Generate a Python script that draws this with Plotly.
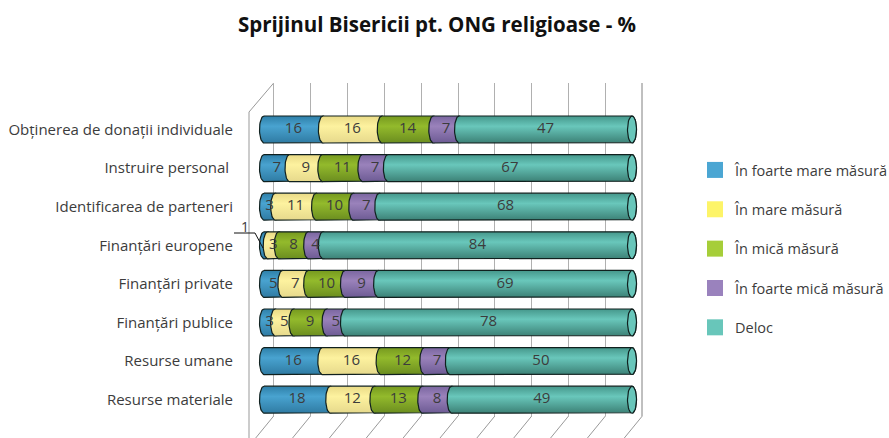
import numpy as np
import plotly.graph_objects as go

categories = ["Obținerea de donații individuale", "Instruire personal\u00a0", "Identificarea de parteneri",
              "Finanțări europene", "Finanțări private", "Finanțări publice", "Resurse umane", "Resurse materiale"]
foarte_mare = [16, 7, 3, 1, 5, 3, 16, 18]
mare = [16, 9, 11, 3, 7, 5, 16, 12]
mica = [14, 11, 10, 8, 10, 9, 12, 13]
foarte_mica = [7, 7, 7, 4, 9, 5, 7, 8]
deloc = [47, 67, 68, 84, 69, 78, 50, 49]
series_names = ["În foarte mare măsură", "În mare măsură", "În mică măsură", "În foarte mică măsură", "Deloc"]
series = [foarte_mare, mare, mica, foarte_mica, deloc]
swatch = ["#4ba6d3", "#fdf468", "#a6ce39", "#9a82bd", "#68c6ba"]
gradients = [("#2f7ba3", "#49a3d0", "#2e7fa8"), ("#e6d98c", "#fdf29f", "#e9da86"),
             ("#6b8d1f", "#93ba2c", "#76991f"), ("#6d5b94", "#9a82bb", "#7a66a0"),
             ("#3c8176", "#69c7bb", "#45978b")]

W, H = 889, 438
L, R, T, B = 249, 642, 83, 416
X0, PX = 264.0, 3.68          # pixel of value 0, pixels per unit
Y0, DY = 129.5, 38.6          # pixel of first row, pixels per row
HALF = 13.5 / DY              # half bar height in row units
RX = 4.5 / PX                 # cap half width in value units
LINE = "#10201e"
GRID = "#b0b0b0"
TEXT = "#3c3c3c"
FONT = "Open Sans"

fig = go.Figure()
t = np.linspace(-np.pi / 2, np.pi / 2, 25)
for s, (vals, grad) in enumerate(zip(series, gradients)):
    for r, v in enumerate(vals):
        start = sum(series[k][r] for k in range(s))
        total = sum(series[k][r] for k in range(5))
        # stacked share, normalised to the 100% axis
        a = start * 100 / total
        b = (start + v) * 100 / total
        xs = np.concatenate([a - RX * np.cos(t), b + RX * np.cos(t[::-1])])
        ys = np.concatenate([r + HALF * np.sin(t), r + HALF * np.sin(t[::-1])])
        xs = np.append(xs, xs[0])
        ys = np.append(ys, ys[0])
        fig.add_trace(go.Scatter(
            x=xs, y=ys, mode="lines", fill="toself", showlegend=False, hoverinfo="skip",
            line=dict(color=LINE, width=1.2),
            fillgradient=dict(type="vertical",
                              colorscale=[[0, grad[0]], [0.62, grad[1]], [1, grad[2]]]),
        ))
# right end caps
for r in range(len(categories)):
    th = np.linspace(0, 2 * np.pi, 49)
    fig.add_trace(go.Scatter(
        x=100 + RX * np.cos(th), y=r + HALF * np.sin(th), mode="lines", fill="toself",
        fillcolor="#68c6ba", line=dict(color=LINE, width=1.2), showlegend=False, hoverinfo="skip"))

# value labels
lx, ly, lt = [], [], []
for s, vals in enumerate(series):
    for r, v in enumerate(vals):
        if v == 1:
            continue
        start = sum(series[k][r] for k in range(s))
        total = sum(series[k][r] for k in range(5))
        lx.append((start + v / 2) * 100 / total)
        ly.append(r)
        lt.append(str(v))
fig.add_trace(go.Scatter(x=lx, y=ly, text=lt, mode="text", showlegend=False, hoverinfo="skip",
                         textfont=dict(family=FONT, size=15, color=TEXT)))

# legend entries
for name, col in zip(series_names, swatch):
    fig.add_trace(go.Scatter(x=[None], y=[None], mode="markers", name=name, legendgroup=name,
                             marker=dict(symbol="square", size=16, color=col)))


def fx(p):
    return (p - L) / (R - L)


def fy(p):
    return (B - p) / (B - T)


shapes = []
line_px = dict(type="line", xref="paper", yref="paper", layer="below")
grid_px = [273.7 + 36.86 * i for i in range(11)]
for g in grid_px:
    shapes.append(dict(line_px, x0=fx(g), x1=fx(g - 18), y0=0, y1=fy(438),
                       line=dict(color="#999999", width=1)))
shapes.append(dict(line_px, x0=0, x1=0, y0=fy(112), y1=fy(438), line=dict(color="#999999", width=1)))
shapes.append(dict(line_px, x0=0, x1=fx(273.7), y0=fy(112), y1=1, line=dict(color="#999999", width=1)))
shapes.append(dict(line_px, x0=1, x1=1, y0=0, y1=1, line=dict(color="#808080", width=1)))
# leader line for the "1" label
leader = dict(type="line", xref="paper", yref="paper", layer="above", line=dict(color="#111111", width=1))
shapes.append(dict(leader, x0=fx(234), x1=fx(255), y0=fy(233), y1=fy(233)))
shapes.append(dict(leader, x0=fx(255), x1=fx(263), y0=fy(233), y1=fy(248)))

annotations = [dict(x=fx(245), y=fy(226), xref="paper", yref="paper", xanchor="center", yanchor="middle",
                    text="1", showarrow=False, font=dict(family=FONT, size=14, color=TEXT))]

fig.update_layout(
    width=W, height=H, autosize=False,
    margin=dict(l=L, r=W - R, t=T, b=H - B, pad=0),
    paper_bgcolor="white", plot_bgcolor="white",
    title=dict(text="<b>Sprijinul Bisericii pt. ONG religioase - %</b>", x=437 / W, xanchor="center",
               y=1 - 25 / H, yanchor="middle", font=dict(family=FONT, size=20.5, color="#111111")),
    xaxis=dict(range=[(L - X0) / PX, (R - X0) / PX], showgrid=True, gridcolor=GRID, gridwidth=1,
               tick0=(273.7 - X0) / PX, dtick=36.86 / PX, showticklabels=False, zeroline=False,
               showline=False, ticks="", automargin=False),
    yaxis=dict(range=[(B - Y0) / DY, (T - Y0) / DY], tickmode="array",
               tickvals=list(range(len(categories))), ticktext=categories, showgrid=False,
               zeroline=False, showline=False, ticks="outside", ticklen=12, tickcolor="rgba(0,0,0,0)",
               tickfont=dict(family=FONT, size=15, color=TEXT), automargin=False),
    legend=dict(x=695 / W, xanchor="left", y=1 - 154 / H, yanchor="top", xref="container", yref="container",
                tracegroupgap=17.5, itemwidth=30, font=dict(family=FONT, size=14.5, color=TEXT),
                bgcolor="rgba(0,0,0,0)"),
    shapes=shapes, annotations=annotations,
)
fig.write_html("out.html", post_script="document.body.style.margin='0';",
               config=dict(displayModeBar=False))
